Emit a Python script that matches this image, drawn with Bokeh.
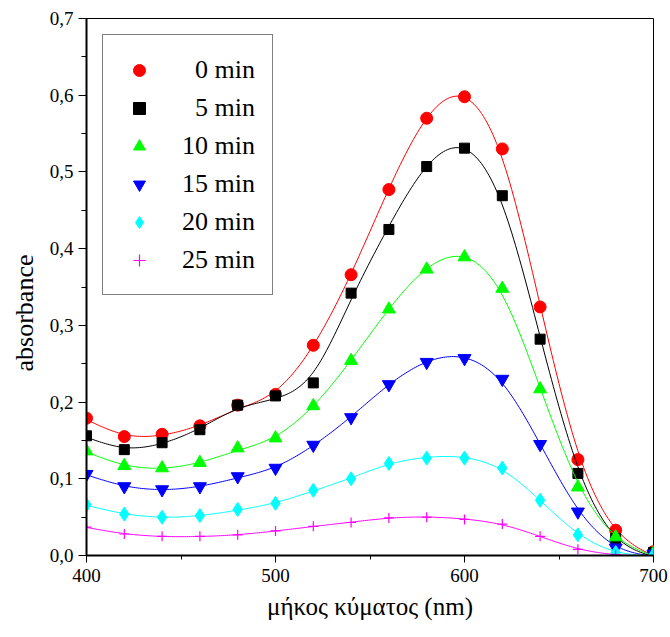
import numpy as np
from bokeh.plotting import figure
from bokeh.models import FixedTicker, Legend, LegendItem
from bokeh.embed import file_html
from bokeh.resources import INLINE

# ---- data ----
wavelength = [400, 420, 440, 460, 480, 500, 520, 540, 560, 580, 600, 620, 640, 660, 680, 700]
abs_0min = [0.179, 0.155, 0.158, 0.169, 0.196, 0.210, 0.274, 0.366, 0.477, 0.570, 0.598, 0.530, 0.324, 0.125, 0.033, 0.005]
abs_5min = [0.156, 0.138, 0.147, 0.164, 0.196, 0.208, 0.225, 0.342, 0.425, 0.507, 0.531, 0.469, 0.282, 0.107, 0.022, 0.004]
abs_10min = [0.136, 0.117, 0.114, 0.121, 0.140, 0.153, 0.195, 0.254, 0.321, 0.373, 0.389, 0.348, 0.217, 0.089, 0.024, 0.003]
abs_15min = [0.106, 0.090, 0.086, 0.090, 0.103, 0.114, 0.144, 0.180, 0.223, 0.252, 0.257, 0.230, 0.145, 0.057, 0.010, 0.002]
abs_20min = [0.066, 0.054, 0.050, 0.052, 0.060, 0.068, 0.085, 0.100, 0.120, 0.127, 0.127, 0.114, 0.072, 0.027, 0.004, 0.001]
abs_25min = [0.037, 0.028, 0.025, 0.025, 0.027, 0.032, 0.038, 0.043, 0.049, 0.050, 0.047, 0.041, 0.025, 0.008, 0.001, 0.000]

series_labels = ["0 min", "5 min", "10 min", "15 min", "20 min", "25 min"]
x_ticks = [400, 500, 600, 700]
x_minor = [450, 550, 650]
x_tick_labels = ["400", "500", "600", "700"]
y_ticks = [0.0, 0.1, 0.2, 0.3, 0.4, 0.5, 0.6, 0.7]
y_minor = [0.05, 0.15, 0.25, 0.35, 0.45, 0.55, 0.65]
y_tick_labels = ["0,0", "0,1", "0,2", "0,3", "0,4", "0,5", "0,6", "0,7"]
x_title = "μήκος κύματος (nm)"
y_title = "absorbance"

series = [abs_0min, abs_5min, abs_10min, abs_15min, abs_20min, abs_25min]
colors = ["#FF0000", "#000000", "#00FF00", "#0000FF", "#00FFFF", "#FF00FF"]
markers = ["circle", "square", "triangle", "inverted_triangle", "diamond", "cross"]
sizes = [12, 10, 13, 13, 14, 10]


def smooth_curve(xs, ys, lam=600.0, n=301):
    """Cubic smoothing spline (Reinsch) through the measured points."""
    xs = np.asarray(xs, float)
    ys = np.asarray(ys, float)
    m = len(xs)
    h = xs[1] - xs[0]
    Q = np.zeros((m, m - 2))
    R = np.zeros((m - 2, m - 2))
    for j in range(m - 2):
        Q[j, j] = 1.0 / h
        Q[j + 1, j] = -2.0 / h
        Q[j + 2, j] = 1.0 / h
        R[j, j] = 2.0 * h / 3.0
        if j + 1 < m - 2:
            R[j, j + 1] = h / 6.0
            R[j + 1, j] = h / 6.0
    K = Q @ np.linalg.solve(R, Q.T)
    g = np.linalg.solve(np.eye(m) + lam * K, ys)
    gam = np.linalg.solve(R, Q.T @ g)
    M = np.concatenate([[0.0], gam, [0.0]])
    xf = np.linspace(xs[0], xs[-1], n)
    idx = np.clip(((xf - xs[0]) // h).astype(int), 0, m - 2)
    x0 = xs[idx]
    x1 = xs[idx + 1]
    yf = (M[idx] * (x1 - xf) ** 3 / (6 * h) + M[idx + 1] * (xf - x0) ** 3 / (6 * h)
          + (g[idx] / h - M[idx] * h / 6) * (x1 - xf)
          + (g[idx + 1] / h - M[idx + 1] * h / 6) * (xf - x0))
    return xf, yf


FONT = "Liberation Serif"

p = figure(width=670, height=637, x_range=(400, 700), y_range=(0, 0.7),
           output_backend="svg", toolbar_location=None,
           min_border_left=86, min_border_right=17, min_border_top=18, min_border_bottom=82)

p.background_fill_color = "white"
p.border_fill_color = "white"
p.outline_line_color = "black"
p.outline_line_width = 1
p.xgrid.visible = False
p.ygrid.visible = False

items = []
for lab, ys, col, mk, sz in zip(series_labels, series, colors, markers, sizes):
    xf, yf = smooth_curve(wavelength, ys)
    p.line(xf, yf, line_color=col, line_width=1)
    lw = 1.2 if mk == "cross" else 1
    r = p.scatter(wavelength, ys, marker=mk, size=sz,
                  fill_color=col, line_color=col, line_width=lw)
    pad = "\u2007" * (6 - len(lab))
    items.append(LegendItem(label=pad + lab, renderers=[r]))

legend = Legend(items=items, location="top_left", margin=16, padding=17, spacing=3,
                glyph_width=38, glyph_height=30, label_height=35, label_standoff=24,
                border_line_color="black", border_line_width=1,
                background_fill_color="white", background_fill_alpha=1.0,
                label_text_font=FONT, label_text_font_size="26px", label_text_color="black")
p.add_layout(legend)

for ax in (p.xaxis, p.yaxis):
    ax.axis_line_width = 2
    ax.axis_line_color = "black"
    ax.major_tick_line_color = "black"
    ax.minor_tick_line_color = "black"
    ax.major_tick_line_width = 1
    ax.minor_tick_line_width = 1
    ax.major_tick_in = 0
    ax.minor_tick_in = 0
    ax.major_label_text_font = FONT
    ax.major_label_text_font_size = "19px"
    ax.major_label_text_color = "black"
    ax.axis_label_text_font = FONT
    ax.axis_label_text_font_style = "normal"
    ax.axis_label_text_color = "black"

p.xaxis.ticker = FixedTicker(ticks=x_ticks, minor_ticks=x_minor)
p.xaxis.major_label_overrides = dict(zip(x_ticks, x_tick_labels))
p.xaxis.major_tick_out = 7
p.xaxis.minor_tick_out = 4
p.xaxis.major_label_standoff = 6
p.xaxis.axis_label = x_title
p.xaxis.axis_label_text_font_size = "25px"
p.xaxis.axis_label_standoff = 8

p.yaxis.ticker = FixedTicker(ticks=y_ticks, minor_ticks=y_minor)
p.yaxis.major_label_overrides = dict(zip(y_ticks, y_tick_labels))
p.yaxis.major_tick_out = 8
p.yaxis.minor_tick_out = 5
p.yaxis.major_label_standoff = 5
# trailing figure spaces push the visible title a little below the frame centre
p.yaxis.axis_label = y_title + "\u2007" * 4
p.yaxis.axis_label_text_font_size = "26px"
p.yaxis.axis_label_standoff = 8

open("out.html", "w").write(file_html(p, INLINE))
